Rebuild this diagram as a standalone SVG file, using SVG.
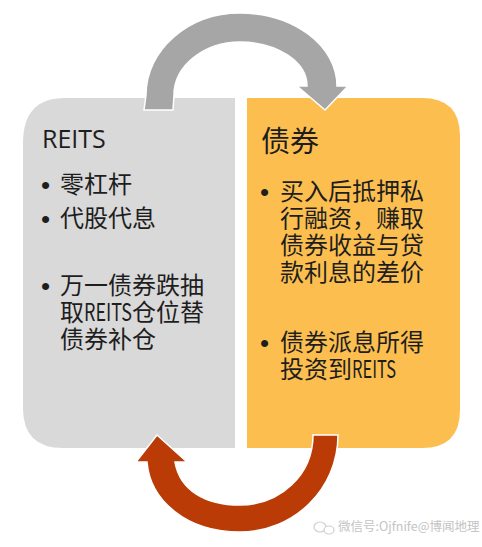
<svg xmlns="http://www.w3.org/2000/svg" width="482" height="547" viewBox="0 0 482 547">
<style>
.t{font-family:"Noto Sans CJK SC","Open Sans",sans-serif;font-size:24px;fill:#1e1e1e}
.ttl{font-family:"Open Sans","Noto Sans CJK SC",sans-serif;font-size:25px;fill:#1e1e1e}
.ttlc{font-family:"Noto Sans CJK SC",sans-serif;font-size:29px;fill:#1e1e1e}
.b{font-family:"Liberation Sans",sans-serif;font-size:26px;fill:#1e1e1e}
.arr{stroke:#ffffff;stroke-width:1.5;stroke-linejoin:miter}
.wm{font-family:"Noto Sans CJK SC",sans-serif;font-size:12.5px;fill:#c4c4c4}
</style>
<rect width="482" height="547" fill="#ffffff"/>
<g id="reits">
<path d="M65,98 H235 V448 H63 Q23,448 23,408 V143 Q23,98 65,98 Z" fill="#d9d9d9"/>
<text class="ttl" x="42" y="148">REITS</text>
<text class="b" x="41" y="194">•</text>
<text class="t" x="60" y="193">零杠杆</text>
<text class="b" x="41" y="228">•</text>
<text class="t" x="60" y="227">代股代息</text>
<text class="b" x="41" y="295">•</text>
<text class="t"><tspan x="60" y="294">万一债券跌抽</tspan><tspan x="60" y="321">取<tspan textLength="48" lengthAdjust="spacingAndGlyphs">REITS</tspan>仓位替</tspan><tspan x="60" y="348">债券补仓</tspan></text>
</g>
<g id="bonds">
<path d="M247,98 H422 Q460,98 460,136 V410 Q460,448 422,448 H247 Z" fill="#fcbf4f"/>
<text class="ttlc" x="261" y="152">债券</text>
<text class="b" x="260" y="201">•</text>
<text class="t"><tspan x="280" y="200">买入后抵押私</tspan><tspan x="280" y="227">行融资，赚取</tspan><tspan x="280" y="254">债券收益与贷</tspan><tspan x="280" y="281">款利息的差价</tspan></text>
<text class="b" x="260" y="352">•</text>
<text class="t"><tspan x="280" y="351">债券派息所得</tspan><tspan x="280" y="378">投资到<tspan textLength="44" lengthAdjust="spacingAndGlyphs">REITS</tspan></tspan></text>
</g>
<g id="connectors">
<path class="arr" fill="#a6a6a6" d="M144,110 L146,95 C146,50 188,13 240,13 C294,13 337,46 337,86 L348,86 L325,110 L297,86 L307,86 C307,62 277,42 240,42 C204,42 174,66 174,95 L173,110 Z"/>
<path class="arr" fill="#bb3b07" d="M338,435 C338,489 294,532 240,532 C186,532 150,500 147,462 L136,462 L157,435 L187,462 L175,462 C180,490 205,505 240,505 C280,505 313,475 313,435 Z"/>
</g>
<g id="watermark">
<ellipse cx="320" cy="527" rx="6" ry="5" fill="none" stroke="#cfcfcf" stroke-width="1.2"/>
<ellipse cx="329" cy="530" rx="5" ry="4" fill="#ffffff" stroke="#cfcfcf" stroke-width="1.2"/>
<text class="wm" x="338" y="531">微信号:Ojfnife@博闻地理</text>
</g>
</svg>
